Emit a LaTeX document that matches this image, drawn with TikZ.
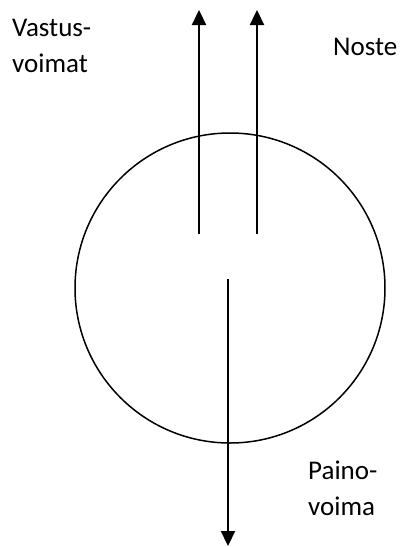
\documentclass[tikz,border=0pt]{standalone}
\usepackage{fontspec}
\setmainfont{Carlito}
\usepackage{tikz}
\usetikzlibrary{arrows.meta, positioning, calc}
\tikzset{
  body/.style={draw, circle, line width=1.5pt, minimum size=310pt, inner sep=0pt},
  force/.style={-{Triangle[length=15pt, width=14pt]}, line width=2.2pt},
  label/.style={anchor=base west, inner sep=0pt, align=left, font=\fontsize{27}{36}\selectfont}
}

\begin{document}
\begin{tikzpicture}[x=1pt, y=-1pt]
        \useasboundingbox (0,0) rectangle (408,547);

        % Body
        \node[body] (ball) at (230,288) {};

        % Force ends
        \coordinate (dragstart) at (199,234);
        \coordinate (dragend)   at (199,10);
        \coordinate (liftstart) at (257,234);
        \coordinate (liftend)   at (257,10);
        \coordinate (weightstart) at (228,279);
        \coordinate (weightend)   at (228,546);

        % Forces
        \draw[force] (dragstart) -- (dragend);
        \draw[force] (liftstart) -- (liftend);
        \draw[force] (weightstart) -- (weightend);

        % Labels (base is the last line)
        \node[label] (drag)   at (12,72)  {Vastus-\\voimat};
        \node[label] (lift)   at (333,55) {Noste};
        \node[label] (weight) at (308,515) {Paino-\\voima};
    \end{tikzpicture}
\end{document}
